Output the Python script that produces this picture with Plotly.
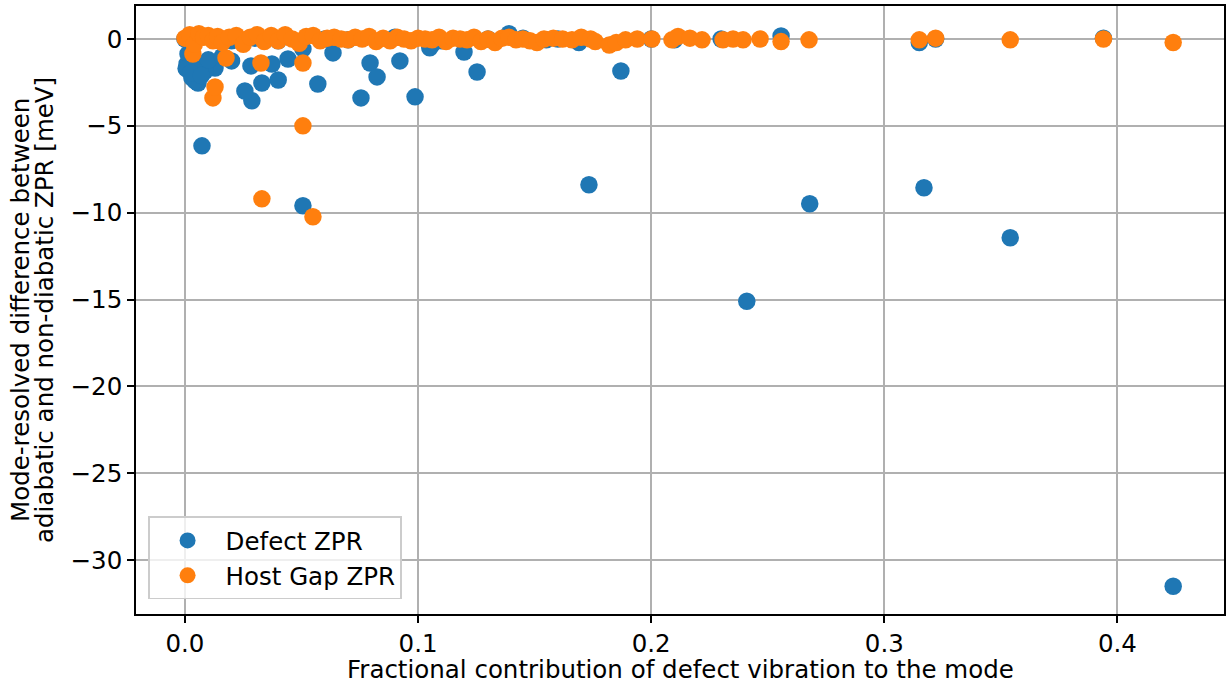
import plotly.graph_objects as go

# Defect ZPR (blue)
defect_x = [0.0073, 0.0506, 0.1733, 0.2410, 0.2680, 0.3170, 0.3540, 0.4239,
            0.1870, 0.1253, 0.1197, 0.0987, 0.0922, 0.0755, 0.0794, 0.0824,
            0.0635, 0.0570, 0.0442, 0.0400, 0.0373, 0.0330, 0.0287, 0.0257,
            0.0283, 0.0200, 0.0129, 0.0086, 0.0056, 0.0030, 0.0009, 0.0013,
            0.0050, 0.0506, 0.1060, 0.1050, 0.1690, 0.1390, 0.0043, 0.0005,
            0.0100, 0.0160, 0.0025, 0.0070,
            0.2557, 0.3150, 0.3220, 0.3940,
            0.0000, 0.0200, 0.0300, 0.0400, 0.0600, 0.0700, 0.0900, 0.1100,
            0.1300, 0.1450, 0.1550, 0.1600, 0.2000, 0.2100, 0.2300]
defect_y = [-6.15, -9.60, -8.39, -15.10, -9.48, -8.56, -11.44, -31.50,
            -1.84, -1.90, -0.75, -3.33, -1.26, -3.39, -1.38, -2.18,
            -0.80, -2.59, -1.15, -2.36, -1.44, -2.53, -3.56, -2.99,
            -1.55, -1.26, -1.67, -1.84, -2.53, -2.24, -1.44, -0.86,
            -1.38, -0.57, -0.30, -0.50, -0.20, 0.30, -2.40, -1.70,
            -1.20, -1.00, -1.95, -2.10,
            0.17, -0.20, 0.00, 0.05,
            0.00, -0.10, 0.05, -0.10, 0.00, -0.05, 0.10, -0.10,
            0.00, 0.05, -0.05, 0.00, 0.00, -0.05, 0.00]

# Host Gap ZPR (orange)
host_x = [0.0120, 0.0129, 0.0176, 0.0330, 0.0326, 0.0506, 0.0506, 0.0549,
          0.0034,
          0.000, 0.002, 0.004, 0.006, 0.008, 0.010, 0.012, 0.014, 0.016,
          0.019, 0.022, 0.025, 0.028, 0.031, 0.034, 0.037, 0.040, 0.043,
          0.046, 0.049, 0.052, 0.055, 0.058, 0.061, 0.064, 0.067, 0.070,
          0.073, 0.076, 0.079, 0.082, 0.085, 0.088, 0.091, 0.094, 0.097,
          0.100, 0.103, 0.106, 0.109, 0.112, 0.115, 0.118, 0.121, 0.124,
          0.127, 0.130, 0.133, 0.136, 0.139, 0.142, 0.145, 0.148, 0.151,
          0.154, 0.158, 0.162, 0.166, 0.170, 0.174, 0.176, 0.182, 0.185,
          0.189, 0.194,
          0.2003, 0.2089, 0.2115, 0.2166, 0.2218, 0.2308, 0.2351, 0.2394,
          0.2467, 0.2557, 0.2677, 0.3150, 0.3220, 0.3540, 0.3940, 0.4239]
host_y = [-3.39, -2.76, -1.09, -9.20, -1.38, -5.00, -1.38, -10.23,
          -0.86,
          0.05, 0.25, -0.30, 0.30, 0.10, 0.20, -0.10, 0.15, -0.20,
          0.10, 0.20, -0.30, 0.10, 0.25, -0.15, 0.20, -0.10, 0.25,
          0.00, -0.25, 0.15, 0.20, -0.10, 0.05, 0.10, 0.00, -0.05,
          0.10, 0.00, 0.15, -0.15, 0.05, -0.10, 0.10, 0.00, -0.10,
          0.05, 0.00, -0.05, 0.10, -0.15, 0.05, 0.00, -0.05, 0.10,
          -0.15, 0.00, -0.20, 0.05, 0.10, -0.05, 0.00, -0.10, -0.20,
          0.00, 0.05, 0.00, -0.05, 0.10, 0.00, -0.15, -0.35, -0.20,
          -0.05, 0.00,
          0.00, -0.05, 0.15, 0.05, -0.05, -0.05, 0.00, -0.05,
          0.00, -0.15, -0.05, -0.05, 0.05, -0.05, 0.00, -0.20]

x_ticks = [0.0, 0.1, 0.2, 0.3, 0.4]
y_ticks = [0, -5, -10, -15, -20, -25, -30]
x_title = "Fractional contribution of defect vibration to the mode"
y_title_lines = ["Mode-resolved difference between", "adiabatic and non-diabatic ZPR [meV]"]

FONT = "DejaVu Sans"
FS = 24.5
W, H = 1228, 684
ML, MR, MT, MB = 136, 4, 6, 70
PW, PH = W - ML - MR, H - MT - MB

fig = go.Figure()
fig.add_trace(go.Scatter(x=defect_x, y=defect_y, mode="markers", name="Defect ZPR",
                         marker=dict(color="#1f77b4", size=17.5, line=dict(width=0))))
fig.add_trace(go.Scatter(x=host_x, y=host_y, mode="markers", name="Host Gap ZPR",
                         marker=dict(color="#ff7f0e", size=17.5, line=dict(width=0))))

axis_common = dict(showgrid=True, gridcolor="#b0b0b0", gridwidth=1.6,
                   showline=True, linecolor="black", linewidth=1.6, mirror=True,
                   ticks="outside", ticklen=7, tickwidth=1.6, tickcolor="black",
                   zeroline=False, automargin=False,
                   tickfont=dict(family=FONT, size=FS, color="black"))

annotations = [
    dict(text=x_title, xref="paper", yref="paper", x=0.5, y=(-(669 - (H - MB))) / PH,
         xanchor="center", yanchor="middle", showarrow=False,
         font=dict(family=FONT, size=FS, color="black")),
]
for cx, line in zip([20, 44], y_title_lines):
    annotations.append(dict(text=line, xref="paper", yref="paper",
                            x=(cx - ML) / PW, y=0.5, xanchor="center", yanchor="middle",
                            textangle=-90, showarrow=False,
                            font=dict(family=FONT, size=FS, color="black")))

fig.update_layout(
    width=W, height=H,
    margin=dict(l=ML, r=MR, t=MT, b=MB),
    paper_bgcolor="white", plot_bgcolor="white",
    font=dict(family=FONT, size=FS, color="black"),
    xaxis=dict(range=[-0.021, 0.4457], tickvals=x_ticks, tickformat=".1f", **axis_common),
    yaxis=dict(range=[-33.1, 1.9], tickvals=y_ticks, **axis_common),
    annotations=annotations,
    legend=dict(x=0.011, y=0.024, xanchor="left", yanchor="bottom",
                bgcolor="rgba(255,255,255,0.8)", bordercolor="#cccccc", borderwidth=1.6,
                font=dict(family=FONT, size=FS), itemsizing="trace", itemwidth=66),
    showlegend=True,
)

fig.write_html("out.html", config={"displayModeBar": False},
               post_script="document.body.style.margin='0';")
